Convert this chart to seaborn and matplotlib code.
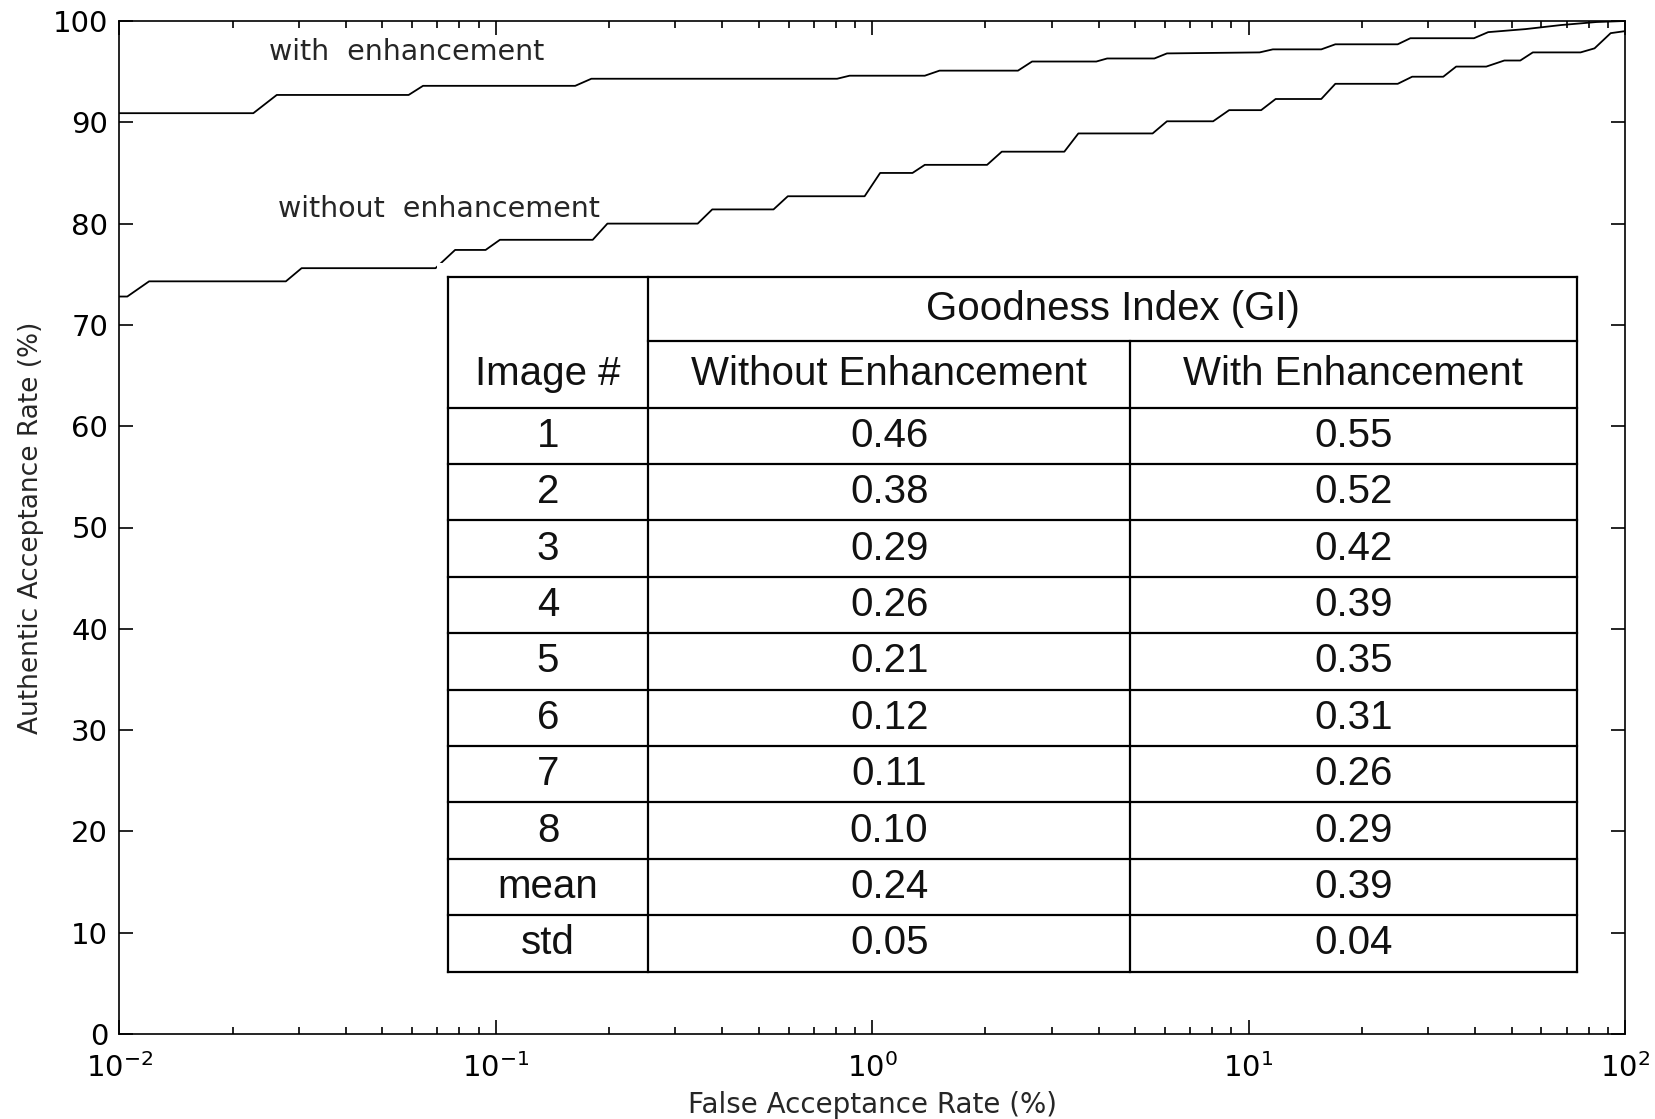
import pandas as pd
import seaborn as sns
import matplotlib.pyplot as plt
from matplotlib.ticker import LogLocator, NullFormatter

# ROC curves: false acceptance rate (%) vs authentic acceptance rate (%)
far_with = [0.01, 0.0227, 0.0262, 0.0587, 0.0641, 0.1626, 0.1795, 0.807, 0.871, 1.38, 1.51,
            2.44, 2.66, 3.94, 4.21, 5.62, 6.07, 10.7, 11.6, 15.6, 17.0, 24.9, 26.9, 39.7,
            43.3, 54.4, 67.6, 84.0, 100.0]
aar_with = [90.9, 90.9, 92.7, 92.7, 93.6, 93.6, 94.3, 94.3, 94.6, 94.6, 95.1,
            95.1, 96.0, 96.0, 96.3, 96.3, 96.8, 96.9, 97.2, 97.2, 97.7, 97.7, 98.3, 98.3,
            98.9, 99.2, 99.6, 99.9, 100.0]

far_without = [0.01, 0.0105, 0.012, 0.0277, 0.0305, 0.0692, 0.078, 0.094, 0.1026, 0.181,
               0.198, 0.344, 0.376, 0.547, 0.597, 0.955, 1.05, 1.28, 1.38, 2.02, 2.21,
               3.24, 3.53, 5.56, 6.07, 8.05, 8.88, 10.8, 11.8, 15.6, 17.0, 24.9, 27.2,
               32.9, 35.6, 42.8, 47.8, 52.7, 56.9, 76.2, 83.0, 91.6, 100.0]
aar_without = [72.8, 72.8, 74.3, 74.3, 75.6, 75.6, 77.4, 77.4, 78.4, 78.4,
               80.0, 80.0, 81.4, 81.4, 82.7, 82.7, 85.0, 85.0, 85.8, 85.8, 87.1,
               87.1, 88.9, 88.9, 90.1, 90.1, 91.2, 91.2, 92.3, 92.3, 93.8, 93.8, 94.5,
               94.5, 95.5, 95.5, 96.1, 96.1, 96.9, 96.9, 97.3, 98.8, 99.0]

# table of goodness index
image_ids = ["1", "2", "3", "4", "5", "6", "7", "8", "mean", "std"]
gi_without = ["0.46", "0.38", "0.29", "0.26", "0.21", "0.12", "0.11", "0.10", "0.24", "0.05"]
gi_with = ["0.55", "0.52", "0.42", "0.39", "0.35", "0.31", "0.26", "0.29", "0.39", "0.04"]

df = pd.concat([
    pd.DataFrame({"far": far_with, "aar": aar_with, "curve": "with"}),
    pd.DataFrame({"far": far_without, "aar": aar_without, "curve": "without"}),
])

sns.set_style("ticks")
plt.rcParams["font.family"] = ["DejaVu Sans"]
plt.rcParams["axes.linewidth"] = 1.2

W, H = 1656, 1119
fig = plt.figure(figsize=(W / 100, H / 100), dpi=100)
ax = fig.add_axes([119.3 / W, 1 - 1034 / H, (1625 - 119.3) / W, (1034 - 21) / H])

sns.lineplot(data=df, x="far", y="aar", units="curve", estimator=None, sort=False,
             color="black", lw=1.3, ax=ax)

ax.set_xscale("log")
ax.set_xlim(0.01, 100)
ax.set_ylim(0, 100)
ax.set_yticks(range(0, 101, 10))
ax.xaxis.set_minor_locator(LogLocator(base=10, subs=range(2, 10)))
ax.xaxis.set_minor_formatter(NullFormatter())
ax.tick_params(which="both", direction="in", top=True, right=True, colors="black",
               labelsize=21, width=1.2)
ax.tick_params(which="major", length=10)
ax.tick_params(axis="y", which="major", pad=8)
ax.tick_params(axis="x", which="major", pad=14)
ax.tick_params(which="minor", length=5)
for s in ax.spines.values():
    s.set_color("black")

# axis titles
ax.set_xlabel("False Acceptance Rate (%)", fontsize=20)
ax.set_ylabel("Authentic Acceptance Rate (%)", fontsize=19)
ax.xaxis.set_label_coords(0.5, -0.056)
ax.yaxis.set_label_coords(-0.05, 0.5)

ax.text(0.025, 96.9, "with  enhancement", fontsize=20.5, va="center", ha="left")
ax.text(0.0264, 81.4, "without  enhancement", fontsize=20.5, va="center", ha="left")

# inset table drawn in pixel-like coordinates
tab = fig.add_axes([437 / W, 1 - 985 / H, (1583 - 437) / W, (985 - 263) / H])
tab.set_xlim(437, 1583)
tab.set_ylim(985, 263)
tab.set_facecolor("white")
tab.set_xticks([])
tab.set_yticks([])
for s in tab.spines.values():
    s.set_visible(False)

c0, c1, c2, c3 = 447.7, 648.4, 1129.9, 1576.6
r_top, r_h1, r_h2, r_bot = 276.7, 341.1, 407.6, 971.5
row_h = (r_bot - r_h2) / len(image_ids)
lk = dict(color="black", lw=1.6, solid_capstyle="projecting")

tab.plot([c0, c3], [r_top, r_top], **lk)
tab.plot([c1, c3], [r_h1, r_h1], **lk)
for i in range(len(image_ids) + 1):
    y = r_h2 + i * row_h
    tab.plot([c0, c3], [y, y], **lk)
for x in (c0, c1, c3):
    tab.plot([x, x], [r_top, r_bot], **lk)
tab.plot([c2, c2], [r_h1, r_bot], **lk)

tfont = dict(family=["Liberation Sans", "DejaVu Sans"], fontsize=29,
             ha="center", va="center", color="#111111")
tab.text((c1 + c3) / 2, (r_top + r_h1) / 2, "Goodness Index (GI)", **tfont)
tab.text((c0 + c1) / 2, (r_h1 + r_h2) / 2, "Image #", **tfont)
tab.text((c1 + c2) / 2, (r_h1 + r_h2) / 2, "Without Enhancement", **tfont)
tab.text((c2 + c3) / 2, (r_h1 + r_h2) / 2, "With Enhancement", **tfont)
for i, (name, a, b) in enumerate(zip(image_ids, gi_without, gi_with)):
    y = r_h2 + (i + 0.5) * row_h
    tab.text((c0 + c1) / 2, y, name, **tfont)
    tab.text((c1 + c2) / 2, y, a, **tfont)
    tab.text((c2 + c3) / 2, y, b, **tfont)

fig.savefig("out.png", dpi=100, facecolor="white")
